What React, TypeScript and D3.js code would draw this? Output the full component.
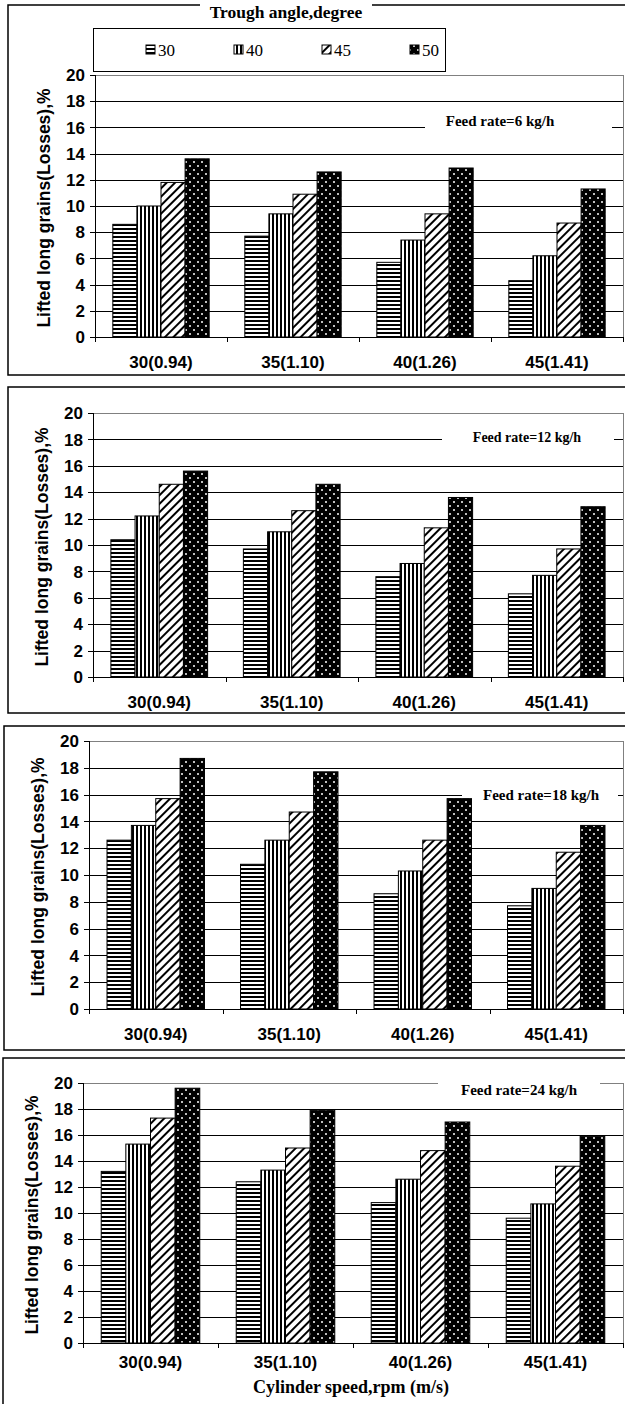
import * as d3 from 'd3'
import { useRef, useEffect } from 'react'

const categories = ['30(0.94)', '35(1.10)', '40(1.26)', '45(1.41)']
const angles = ['30', '40', '45', '50']
const yTicks = [0, 2, 4, 6, 8, 10, 12, 14, 16, 18, 20]

// rows: trough angle 30, 40, 45, 50 -- columns: cylinder speed
const losses6 = [
    [8.6, 7.7, 5.7, 4.3],
    [10.0, 9.4, 7.4, 6.2],
    [11.8, 10.9, 9.4, 8.7],
    [13.6, 12.6, 12.9, 11.3],
]
const losses12 = [
    [10.4, 9.7, 7.6, 6.3],
    [12.2, 11.0, 8.6, 7.7],
    [14.6, 12.6, 11.3, 9.7],
    [15.6, 14.6, 13.6, 12.9],
]
const losses18 = [
    [12.6, 10.8, 8.6, 7.7],
    [13.7, 12.6, 10.3, 9.0],
    [15.7, 14.7, 12.6, 11.7],
    [18.7, 17.7, 15.7, 13.7],
]
const losses24 = [
    [13.2, 12.4, 10.8, 9.6],
    [15.3, 13.3, 12.6, 10.7],
    [17.3, 15.0, 14.8, 13.6],
    [19.6, 17.9, 17.0, 15.9],
]
const feedLabels = ['Feed rate=6 kg/h', 'Feed rate=12 kg/h', 'Feed rate=18 kg/h', 'Feed rate=24 kg/h']

const SANS = '"Liberation Sans", Arial, sans-serif'
const SERIF = '"Liberation Serif", "Times New Roman", serif'
const fills = ['url(#hstripe)', 'url(#vstripe)', 'url(#diag)', 'url(#dots)']

// layout of the four stacked panels
const panels = [
    { data: losses6, label: feedLabels[0], frame: [8, 5, 370], plot: [95, 623, 75, 337], labelGap: 31, feed: [425, 612, 110, 133, 500, 126, 15] },
    { data: losses12, label: feedLabels[1], frame: [8, 387, 326], plot: [93, 623, 413, 677], labelGap: 31, feed: [442, 614, 427, 447, 527, 442, 14] },
    { data: losses18, label: feedLabels[2], frame: [4, 726, 324], plot: [89, 623, 741, 1009], labelGap: 31, feed: [462, 618, 783, 804, 541, 800, 15] },
    { data: losses24, label: feedLabels[3], frame: [3, 1058, 400], plot: [83, 623, 1083, 1343], labelGap: 25, feed: [438, 600, 1077, 1100, 519, 1095, 15] },
]

export default function App() {
    const svgRef = useRef(null)

    useEffect(() => {
        document.body.style.margin = '0'
        const svg = d3.select(svgRef.current)
        svg.selectAll('*').remove()

        const defs = svg.append('defs')
        const hs = defs.append('pattern').attr('id', 'hstripe').attr('patternUnits', 'userSpaceOnUse').attr('width', 4).attr('height', 4)
        hs.append('rect').attr('width', 4).attr('height', 4).attr('fill', '#fff')
        hs.append('rect').attr('width', 4).attr('height', 2).attr('fill', '#000')
        const vs = defs.append('pattern').attr('id', 'vstripe').attr('patternUnits', 'userSpaceOnUse').attr('width', 4).attr('height', 4)
        vs.append('rect').attr('width', 4).attr('height', 4).attr('fill', '#fff')
        vs.append('rect').attr('width', 2).attr('height', 4).attr('fill', '#000')
        const dg = defs.append('pattern').attr('id', 'diag').attr('patternUnits', 'userSpaceOnUse').attr('width', 6).attr('height', 6)
            .attr('patternTransform', 'rotate(45)')
        dg.append('rect').attr('width', 6).attr('height', 6).attr('fill', '#fff')
        dg.append('rect').attr('width', 2).attr('height', 6).attr('fill', '#000')
        const dt = defs.append('pattern').attr('id', 'dots').attr('patternUnits', 'userSpaceOnUse').attr('width', 8).attr('height', 8)
        dt.append('rect').attr('width', 8).attr('height', 8).attr('fill', '#000')
        dt.append('circle').attr('cx', 2).attr('cy', 2).attr('r', 1).attr('fill', '#fff')
        dt.append('circle').attr('cx', 6).attr('cy', 6).attr('r', 1).attr('fill', '#fff')

        panels.forEach((p, pi) => {
            const [left, right, top, bottom] = p.plot
            const g = svg.append('g')

            g.append('rect')
                .attr('x', p.frame[0]).attr('y', p.frame[1])
                .attr('width', 700).attr('height', p.frame[2])
                .attr('fill', '#fff').attr('stroke', '#000').attr('stroke-width', 1.5)

            const x = d3.scaleBand().domain(categories).range([left, right]).paddingInner(0.27).paddingOuter(0.135)
            const xs = d3.scaleBand().domain(angles).range([0, x.bandwidth()])
            const y = d3.scaleLinear().domain([0, 20]).range([bottom, top])

            // gridlines
            g.selectAll('.grid').data(yTicks.filter(t => t > 0)).join('line')
                .attr('x1', left).attr('x2', right)
                .attr('y1', d => Math.round(y(d)) + 0.5).attr('y2', d => Math.round(y(d)) + 0.5)
                .attr('stroke', d => d === 20 ? '#808080' : '#000').attr('stroke-width', 1)
            g.append('line').attr('x1', right + 0.5).attr('x2', right + 0.5).attr('y1', top).attr('y2', bottom)
                .attr('stroke', '#808080')

            // feed rate label box
            const [bx0, bx1, by0, by1, tx, ty, fs] = p.feed
            g.append('rect').attr('x', bx0).attr('y', by0).attr('width', bx1 - bx0).attr('height', by1 - by0).attr('fill', '#fff')
            g.append('text').attr('x', tx).attr('y', ty).attr('text-anchor', 'middle')
                .attr('font-family', SERIF).attr('font-weight', 'bold').attr('font-size', fs)
                .text(p.label)

            // bars
            p.data.forEach((series, si) => {
                g.selectAll('.bar' + si).data(series).join('rect')
                    .attr('x', (_, i) => x(categories[i]) + xs(angles[si]))
                    .attr('width', xs.bandwidth())
                    .attr('y', d => y(d))
                    .attr('height', d => bottom - y(d))
                    .attr('fill', fills[si])
                    .attr('stroke', '#000').attr('stroke-width', 1)
            })

            // axes
            g.append('line').attr('x1', left + 0.5).attr('x2', left + 0.5).attr('y1', top).attr('y2', bottom).attr('stroke', '#000')
            g.append('line').attr('x1', left - 5).attr('x2', right).attr('y1', bottom + 0.5).attr('y2', bottom + 0.5).attr('stroke', '#000')
            g.selectAll('.ytick').data(yTicks).join('line')
                .attr('x1', left - 5).attr('x2', left)
                .attr('y1', d => Math.round(y(d)) + 0.5).attr('y2', d => Math.round(y(d)) + 0.5)
                .attr('stroke', '#000')
            g.selectAll('.ylab').data(yTicks).join('text')
                .attr('x', left - 10).attr('y', d => y(d)).attr('dy', '0.36em')
                .attr('text-anchor', 'end').attr('font-family', SANS).attr('font-weight', 'bold').attr('font-size', 17)
                .text(d => d)
            const step = x.step()
            g.selectAll('.xtick').data(d3.range(categories.length + 1)).join('line')
                .attr('x1', i => Math.round(left + i * step) + 0.5).attr('x2', i => Math.round(left + i * step) + 0.5)
                .attr('y1', bottom).attr('y2', bottom + 5)
                .attr('stroke', '#000')
            g.selectAll('.xlab').data(categories).join('text')
                .attr('x', d => x(d) + x.bandwidth() / 2).attr('y', bottom + p.labelGap)
                .attr('text-anchor', 'middle').attr('font-family', SANS).attr('font-weight', 'bold').attr('font-size', 17)
                .text(d => d)

            g.append('text')
                .attr('transform', `translate(${left - 45},${(top + bottom) / 2 + 2}) rotate(-90)`)
                .attr('text-anchor', 'middle').attr('font-family', SANS).attr('font-weight', 'bold').attr('font-size', 17.5)
                .text('Lifted long grains(Losses),%')

            if (pi === 3) {
                g.append('text').attr('x', 351).attr('y', bottom + 50).attr('text-anchor', 'middle')
                    .attr('font-family', SERIF).attr('font-weight', 'bold').attr('font-size', 18)
                    .text('Cylinder speed,rpm (m/s)')
            }
        })

        // legend (top panel)
        const lg = svg.append('g')
        lg.append('rect').attr('x', 200).attr('y', 2).attr('width', 172).attr('height', 8).attr('fill', '#fff')
        lg.append('text').attr('x', 286).attr('y', 18).attr('text-anchor', 'middle')
            .attr('font-family', SERIF).attr('font-weight', 'bold').attr('font-size', 17.5)
            .text('Trough angle,degree')
        lg.append('rect').attr('x', 93.5).attr('y', 28.5).attr('width', 352).attr('height', 43)
            .attr('fill', '#fff').attr('stroke', '#000')
        const lx = d3.scalePoint().domain(angles).range([146, 410])
        angles.forEach((a, i) => {
            lg.append('rect').attr('x', lx(a)).attr('y', 45).attr('width', 9).attr('height', 9)
                .attr('fill', fills[i]).attr('stroke', '#000').attr('stroke-width', 1)
            lg.append('text').attr('x', lx(a) + 12).attr('y', 56)
                .attr('font-family', SERIF).attr('font-size', 17)
                .text(a)
        })
    }, [])

    return (
        <svg ref={svgRef} width={625} height={1404} style={{ display: 'block' }}></svg>
    )
}
